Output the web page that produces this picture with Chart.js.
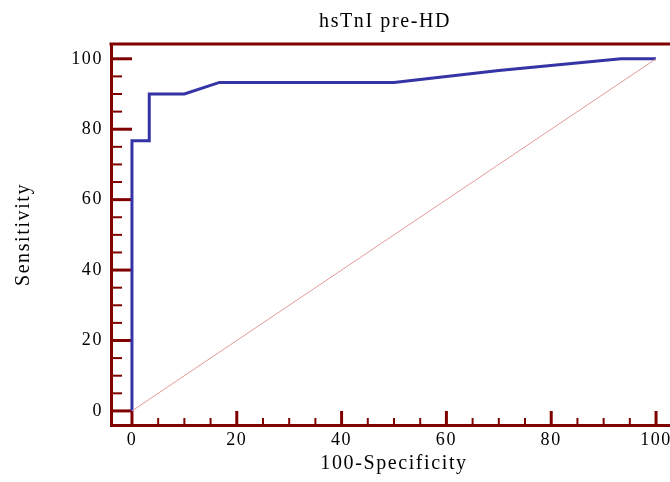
<!DOCTYPE html>
<html>
<head>
<meta charset="utf-8">
<script src="https://cdn.jsdelivr.net/npm/chart.js@4"></script>
<style>
html, body { margin: 0; padding: 0; overflow: hidden; background: #fff; width: 670px; height: 482px; }
canvas { display: block; }
</style>
</head>
<body>
<canvas id="c" width="770" height="482"></canvas>
<script>
// ---- data ----
const specComplement = [0, 0, 3.3, 3.3, 10, 16.7, 50, 70, 93.3, 100];
const sensitivity    = [0, 76.7, 76.7, 90, 90, 93.3, 93.3, 96.7, 100, 100];
const diagX = [0, 100];
const diagY = [0, 100];
const xTicks = [0, 20, 40, 60, 80, 100];
const yTicks = [0, 20, 40, 60, 80, 100];
const titleText = 'hsTnI pre-HD';
const xTitle = '100-Specificity';
const yTitle = 'Sensitivity';

// ---- styles ----
const AXIS = '#800000';
const FONT = 'Liberation Serif';
const SPACING = '1.6px';

const letterSpacing = {
  id: 'letterSpacing',
  beforeLayout(chart) { chart.ctx.letterSpacing = SPACING; },
  beforeDraw(chart) { chart.ctx.letterSpacing = SPACING; }
};

function minorsOf(ticks) {
  const out = [];
  for (let i = 0; i < ticks.length - 1; i++) {
    const a = ticks[i], b = ticks[i + 1];
    for (let k = 1; k < 4; k++) out.push(a + (b - a) * k / 4);
  }
  return out;
}

const frameTicks = {
  id: 'frameTicks',
  beforeDatasetsDraw(chart) {
    const { ctx, chartArea: a, scales: { x, y } } = chart;
    ctx.save();
    ctx.strokeStyle = AXIS;
    ctx.lineCap = 'butt';
    ctx.lineWidth = 3;
    ctx.beginPath(); ctx.moveTo(a.left - 1.5, a.top); ctx.lineTo(a.right, a.top); ctx.stroke();
    const drawX = (vals, major) => {
      ctx.lineWidth = major ? 3 : 2;
      vals.forEach(v => {
        const px = x.getPixelForValue(v);
        ctx.beginPath(); ctx.moveTo(px, a.bottom); ctx.lineTo(px, a.bottom - (major ? 14 : 7)); ctx.stroke();
      });
    };
    const drawY = (vals, major) => {
      ctx.lineWidth = major ? 3 : 2;
      vals.forEach(v => {
        const py = y.getPixelForValue(v);
        ctx.beginPath(); ctx.moveTo(a.left, py); ctx.lineTo(a.left + (major ? 21 : 11), py); ctx.stroke();
      });
    };
    drawX(xTicks, true); drawX(minorsOf(xTicks), false);
    drawY(yTicks, true); drawY(minorsOf(yTicks), false);
    ctx.restore();
  }
};

new Chart(document.getElementById('c'), {
  type: 'line',
  data: {
    datasets: [
      {
        data: diagX.map((v, i) => ({ x: v, y: diagY[i] })),
        borderColor: '#e39a9a',
        borderWidth: 1,
        pointRadius: 0,
        fill: false
      },
      {
        data: specComplement.map((v, i) => ({ x: v, y: sensitivity[i] })),
        borderColor: '#3434a6',
        borderWidth: 3,
        borderJoinStyle: 'miter',
        pointRadius: 0,
        tension: 0,
        fill: false
      }
    ]
  },
  plugins: [letterSpacing, frameTicks],
  options: {
    responsive: false,
    animation: false,
    devicePixelRatio: 1,
    layout: { padding: 0 },
    plugins: {
      legend: { display: false },
      tooltip: { enabled: false },
      title: {
        display: true,
        text: titleText,
        color: '#000',
        font: { family: FONT, size: 20, weight: 'normal' },
        padding: { top: 10, bottom: 10 }
      }
    },
    scales: {
      x: {
        type: 'linear',
        min: -4,
        max: 104,
        afterBuildTicks: s => { s.ticks = xTicks.map(v => ({ value: v })); },
        afterFit: s => { s.height = 57; },
        grid: { display: true, drawOnChartArea: false, drawTicks: false },
        border: { display: true, color: AXIS, width: 3 },
        ticks: { color: '#000', font: { family: FONT, size: 18 }, padding: 4, maxRotation: 0 },
        title: { display: true, text: xTitle, color: '#000', font: { family: FONT, size: 20 }, padding: { top: 0, bottom: 6 } }
      },
      y: {
        type: 'linear',
        position: 'left',
        min: -4,
        max: 104.2,
        afterBuildTicks: s => { s.ticks = yTicks.map(v => ({ value: v })); },
        afterFit: s => { s.width = 111; },
        grid: { display: true, drawOnChartArea: false, drawTicks: false },
        border: { display: true, color: AXIS, width: 3 },
        ticks: { color: '#000', font: { family: FONT, size: 18 }, padding: 8 },
        title: { display: true, text: yTitle, color: '#000', font: { family: FONT, size: 20 }, padding: { top: 12, bottom: 0 } }
      },
      yRight: {
        type: 'linear',
        position: 'right',
        min: -4,
        max: 104.2,
        afterFit: s => { s.width = 93; },
        grid: { display: false, drawTicks: false },
        border: { display: false },
        ticks: { display: false }
      }
    }
  }
});
</script>
</body>
</html>
